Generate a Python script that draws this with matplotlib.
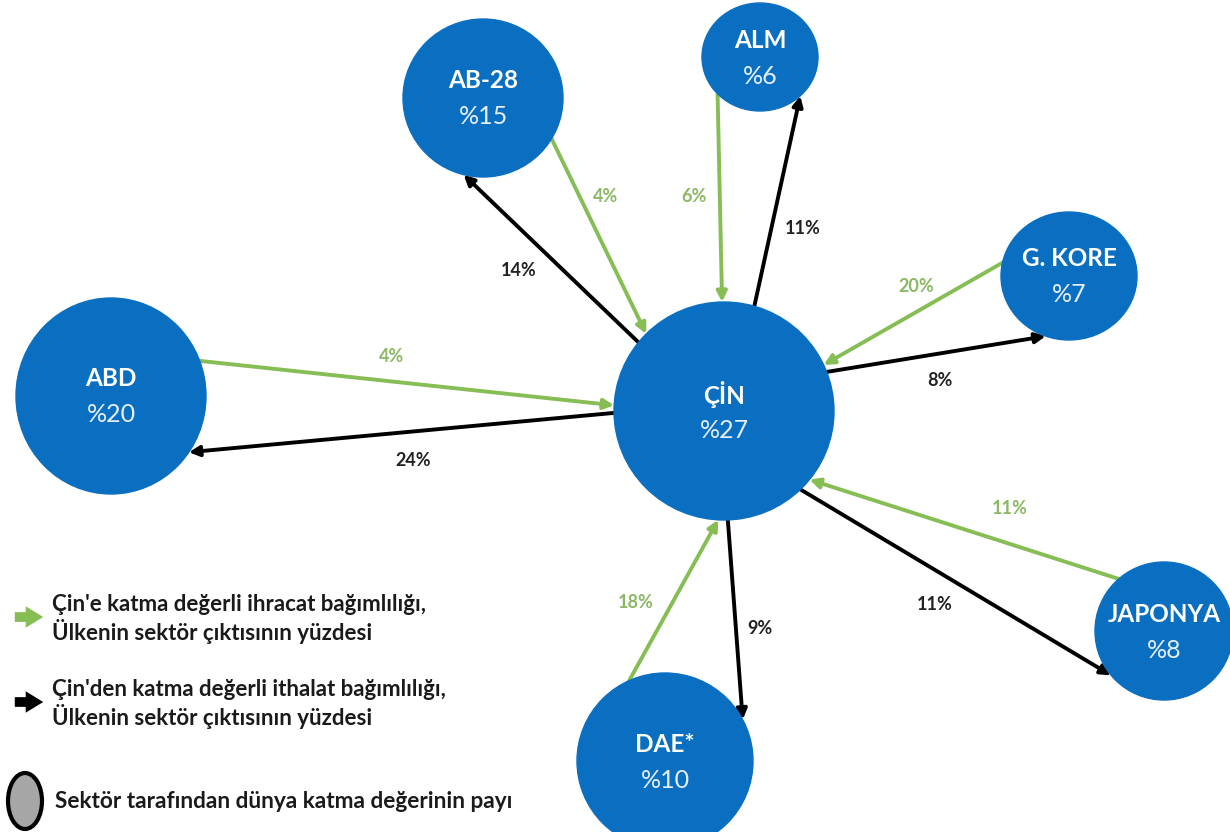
import numpy as np
import matplotlib.pyplot as plt
from matplotlib.patches import Ellipse, FancyArrowPatch

# data
countries = ["ÇİN", "ABD", "AB-28", "ALM", "G. KORE", "JAPONYA", "DAE*"]
share = [27, 20, 15, 6, 7, 8, 10]            # world value added share, %
partners = ["ABD", "AB-28", "ALM", "G. KORE", "JAPONYA", "DAE*"]
export_dep = [4, 4, 6, 20, 11, 18]            # green: partner -> Çin
import_dep = [24, 14, 11, 8, 11, 9]           # black: Çin -> partner

legend_txt = ["Çin'e katma değerli ihracat bağımlılığı,\nÜlkenin sektör çıktısının yüzdesi",
              "Çin'den katma değerli ithalat bağımlılığı,\nÜlkenin sektör çıktısının yüzdesi",
              "Sektör tarafından dünya katma değerinin payı"]

# layout (pixels, y down)
center = {"ÇİN": (724, 411), "ABD": (111, 396), "AB-28": (483, 98), "ALM": (760, 57),
          "G. KORE": (1069, 276), "JAPONYA": (1164, 631), "DAE*": (665, 761)}
radii = {"ÇİN": (110, 109), "ABD": (95, 98), "AB-28": (80, 79), "ALM": (58, 54),
         "G. KORE": (68, 64), "JAPONYA": (69, 69), "DAE*": (88, 88)}
# attach angles (deg): green (partner side, china side), black (china side, partner side)
g_ang = {"ABD": (-21, -177), "AB-28": (31, -135), "ALM": (137, -91),
         "G. KORE": (-168, -25), "JAPONYA": (-131, 39), "DAE*": (-114, 93)}
k_ang = {"ABD": (179, 35), "AB-28": (-141, 104), "ALM": (-74, 46),
         "G. KORE": (-21, 110), "JAPONYA": (46, 140), "DAE*": (88, -28)}
g_lbl = {"ABD": (392, 357), "AB-28": (606, 197), "ALM": (694, 197),
         "G. KORE": (916, 287), "JAPONYA": (1010, 508), "DAE*": (636, 603)}
k_lbl = {"ABD": (413, 460), "AB-28": (519, 270), "ALM": (803, 228),
         "G. KORE": (940, 381), "JAPONYA": (935, 604), "DAE*": (760, 628)}

BLUE = "#0B6FC1"
GREEN = "#86BD55"
GREEN_T = "#8AB864"
FONT = "Lato"

fig = plt.figure(figsize=(12.3, 8.32), dpi=100)
ax = fig.add_axes([0, 0, 1, 1])
ax.set_xlim(0, 1230)
ax.set_ylim(832, 0)
ax.axis("off")


def edge(name, ang):
    cx, cy = center[name]
    rx, ry = radii[name]
    a = np.deg2rad(ang)
    return cx + rx * np.cos(a), cy + ry * np.sin(a)


def arrow(p0, p1, col):
    ax.add_patch(FancyArrowPatch(p0, p1, arrowstyle="-|>", mutation_scale=15,
                                 lw=2.8, color=col, shrinkA=0, shrinkB=0, zorder=2))


for i, p in enumerate(partners):
    a0, a1 = g_ang[p]
    arrow(edge(p, a0), edge("ÇİN", a1), GREEN)
    b0, b1 = k_ang[p]
    arrow(edge("ÇİN", b0), edge(p, b1), "black")
    ax.text(*g_lbl[p], f"{export_dep[i]}%", color=GREEN_T, fontsize=13,
            fontweight="bold", family=FONT, ha="center", va="center")
    ax.text(*k_lbl[p], f"{import_dep[i]}%", color="#222222", fontsize=13,
            fontweight="bold", family=FONT, ha="center", va="center")

for c, s in zip(countries, share):
    cx, cy = center[c]
    rx, ry = radii[c]
    ax.add_patch(Ellipse((cx, cy), 2 * rx, 2 * ry, color=BLUE, zorder=3))
    ax.text(cx, cy - 17, c, color="white", fontsize=17.5, fontweight="bold",
            family=FONT, ha="center", va="center", zorder=4)
    ax.text(cx, cy + 19, f"%{s}", color="#e6effa", fontsize=18,
            family=FONT, ha="center", va="center", zorder=4)

# legend
ax.add_patch(FancyArrowPatch((12, 617), (46, 617), arrowstyle="simple,head_width=1.1,head_length=0.9,tail_width=0.5",
                             mutation_scale=14, color=GREEN, lw=0))
ax.add_patch(FancyArrowPatch((12, 702), (46, 702), arrowstyle="simple,head_width=1.1,head_length=0.9,tail_width=0.5",
                             mutation_scale=14, color="black", lw=0))
ax.add_patch(Ellipse((25, 801), 34, 56, facecolor="#A6A6A6", edgecolor="black", lw=3))
ax.text(52, 619, legend_txt[0], fontsize=16, fontweight="bold", family=FONT,
        color="#1a1a1a", va="center", ha="left", linespacing=1.15)
ax.text(52, 704, legend_txt[1], fontsize=16, fontweight="bold", family=FONT,
        color="#1a1a1a", va="center", ha="left", linespacing=1.15)
ax.text(55, 802, legend_txt[2], fontsize=16.3, fontweight="bold", family=FONT,
        color="#1a1a1a", va="center", ha="left")

fig.savefig("out.png", dpi=100)
